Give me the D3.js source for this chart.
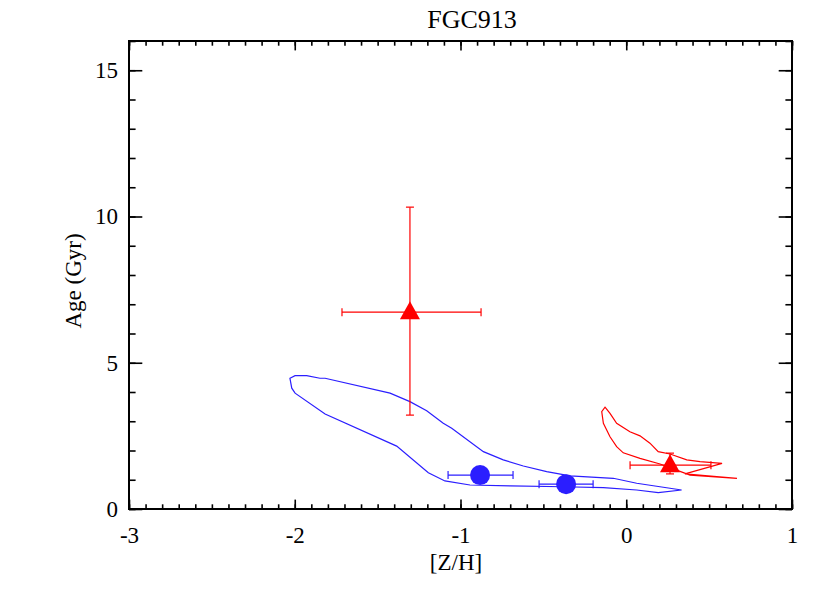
<!DOCTYPE html>
<html>
<head>
<meta charset="utf-8">
<script src="https://cdn.jsdelivr.net/npm/d3@7"></script>
<style>
  body { margin: 0; background: #fff; }
  text { font-family: "Liberation Serif", "DejaVu Serif", serif; fill: #000; }
</style>
</head>
<body>
<div id="chart"></div>
<script>
// data
var titleText = "FGC913";
var xTicks = [-3, -2, -1, 0, 1];
var yTicks = [0, 5, 10, 15];

// red triangles
var redZ = [-1.305, 0.264];
var redAge = [6.73, 1.50];
var redZLo = [-1.715, 0.023];
var redZHi = [-0.876, 0.511];
var redAgeLo = [3.21, 1.20];
var redAgeHi = [10.32, 1.91];

// blue circles
var blueZ = [-0.882, -0.363];
var blueAge = [1.16, 0.85];
var blueZLo = [-1.075, -0.526];
var blueZHi = [-0.683, -0.200];

// contours
var blueContourZ = [-2.029, -1.998, -1.928, -1.848, -1.817, -1.425, -1.305, -1.204, -1.104, -1.053,
  -0.862, -0.742, -0.621, -0.480, -0.339, -0.078, 0.063, 0.334, 0.193, 0.063, -0.138, -0.380,
  -0.701, -0.943, -1.094, -1.194, -1.385, -1.817, -1.998, -2.018];
var blueContourAge = [4.47, 4.56, 4.56, 4.47, 4.47, 3.96, 3.67, 3.36, 2.93, 2.76,
  1.96, 1.68, 1.47, 1.28, 1.13, 1.05, 0.88, 0.65, 0.56, 0.65, 0.73, 0.76,
  0.79, 0.82, 0.96, 1.24, 2.15, 3.25, 3.96, 4.13];
var redContourZ = [-0.122, -0.098, -0.058, 0.022, 0.083, 0.143, 0.193, 0.264, 0.365, 0.445, 0.578,
  0.354, 0.668, 0.385, 0.304, 0.204, 0.083, -0.018, -0.058, -0.098, -0.138, -0.148, -0.128];
var redContourAge = [3.44, 3.27, 2.93, 2.64, 2.50, 2.25, 1.96, 1.88, 1.68, 1.62, 1.56,
  1.20, 1.05, 1.16, 1.33, 1.54, 1.73, 1.92, 2.13, 2.47, 2.93, 3.33, 3.48];

var svgWidth = 830;
var svgHeight = 593;
var margin = { top: 41, right: 38, bottom: 84, left: 129 };
var width = svgWidth - margin.left - margin.right;
var height = svgHeight - margin.top - margin.bottom;

var svg = d3.select("#chart")
  .append("svg")
  .attr("width", svgWidth)
  .attr("height", svgHeight);

var chartGroup = svg.append("g")
  .attr("transform", `translate(${margin.left}, ${margin.top})`);

var xScale = d3.scaleLinear().domain([-3, 1]).range([0, width]);
var yScale = d3.scaleLinear().domain([0, 16]).range([height, 0]);

// IDL style tick lengths
var xMajor = 9.4, xMinor = 4.7;
var yMajor = 13.3, yMinor = 6.6;

var xMinorTicks = d3.range(-3, 1.0001, 0.1).map(d => Math.round(d * 10) / 10);
var yMinorTicks = d3.range(0, 16.0001, 1);

// plain hyphen minus like the original
var plainFormat = d => String(d);

function drawAxis(axis, cls) {
  var g = chartGroup.append("g").attr("class", cls);
  g.call(axis);
  g.select(".domain").remove();
  g.selectAll("line").attr("stroke", "#000").attr("stroke-width", 1.6);
  g.selectAll("text").style("font-size", "23px");
  return g;
}

// bottom
drawAxis(d3.axisBottom(xScale).tickValues(xMinorTicks).tickSize(-xMinor).tickFormat(""), "xminor")
  .attr("transform", `translate(0, ${height})`);
drawAxis(d3.axisBottom(xScale).tickValues(xTicks).tickSize(-xMajor).tickPadding(18).tickFormat(plainFormat), "xmajor")
  .attr("transform", `translate(0, ${height})`);
// top
drawAxis(d3.axisTop(xScale).tickValues(xMinorTicks).tickSize(-xMinor).tickFormat(""), "xminortop");
drawAxis(d3.axisTop(xScale).tickValues(xTicks).tickSize(-xMajor).tickFormat(""), "xmajortop");
// left
drawAxis(d3.axisLeft(yScale).tickValues(yMinorTicks).tickSize(-yMinor).tickFormat(""), "yminor");
drawAxis(d3.axisLeft(yScale).tickValues(yTicks).tickSize(-yMajor).tickPadding(11).tickFormat(plainFormat), "ymajor");
// right
drawAxis(d3.axisRight(yScale).tickValues(yMinorTicks).tickSize(-yMinor).tickFormat(""), "yminorright")
  .attr("transform", `translate(${width}, 0)`);
drawAxis(d3.axisRight(yScale).tickValues(yTicks).tickSize(-yMajor).tickFormat(""), "ymajorright")
  .attr("transform", `translate(${width}, 0)`);

// frame
chartGroup.append("rect")
  .attr("width", width)
  .attr("height", height)
  .attr("fill", "none")
  .attr("stroke", "#000")
  .attr("stroke-width", 2);

// contours
var line = d3.line()
  .x(d => xScale(d[0]))
  .y(d => yScale(d[1]))
  .curve(d3.curveLinearClosed);

chartGroup.append("path")
  .datum(d3.zip(blueContourZ, blueContourAge))
  .attr("d", line)
  .attr("fill", "none")
  .attr("stroke", "#2b1eff")
  .attr("stroke-width", 1.2);

chartGroup.append("path")
  .datum(d3.zip(redContourZ, redContourAge))
  .attr("d", line)
  .attr("fill", "none")
  .attr("stroke", "#ff0000")
  .attr("stroke-width", 1.2);

// error bars
var cap = 4;
function hErr(z, lo, hi, age, color) {
  var g = chartGroup.append("g").attr("stroke", color).attr("stroke-width", 1.2);
  g.append("line").attr("x1", xScale(lo)).attr("x2", xScale(hi)).attr("y1", yScale(age)).attr("y2", yScale(age));
  g.append("line").attr("x1", xScale(lo)).attr("x2", xScale(lo)).attr("y1", yScale(age) - cap).attr("y2", yScale(age) + cap);
  g.append("line").attr("x1", xScale(hi)).attr("x2", xScale(hi)).attr("y1", yScale(age) - cap).attr("y2", yScale(age) + cap);
}
function vErr(z, lo, hi, color) {
  var g = chartGroup.append("g").attr("stroke", color).attr("stroke-width", 1.2);
  g.append("line").attr("x1", xScale(z)).attr("x2", xScale(z)).attr("y1", yScale(lo)).attr("y2", yScale(hi));
  g.append("line").attr("x1", xScale(z) - cap).attr("x2", xScale(z) + cap).attr("y1", yScale(lo)).attr("y2", yScale(lo));
  g.append("line").attr("x1", xScale(z) - cap).attr("x2", xScale(z) + cap).attr("y1", yScale(hi)).attr("y2", yScale(hi));
}

redZ.forEach(function(z, i) {
  hErr(z, redZLo[i], redZHi[i], redAge[i], "#ff0000");
  vErr(z, redAgeLo[i], redAgeHi[i], "#ff0000");
});
blueZ.forEach(function(z, i) {
  hErr(z, blueZLo[i], blueZHi[i], blueAge[i], "#2b1eff");
});

// markers
chartGroup.selectAll(".tri")
  .data(d3.zip(redZ, redAge))
  .enter()
  .append("path")
  .attr("class", "tri")
  .attr("d", "M0,-11 L10,7 L-10,7 Z")
  .attr("transform", d => `translate(${xScale(d[0])}, ${yScale(d[1])})`)
  .attr("fill", "#ff0000");

chartGroup.selectAll(".dot")
  .data(d3.zip(blueZ, blueAge))
  .enter()
  .append("circle")
  .attr("class", "dot")
  .attr("cx", d => xScale(d[0]))
  .attr("cy", d => yScale(d[1]))
  .attr("r", 10)
  .attr("fill", "#2b1eff");

// title and axis labels
svg.append("text")
  .attr("x", 472)
  .attr("y", 28)
  .attr("text-anchor", "middle")
  .attr("font-size", "26px")
  .text(titleText);

svg.append("text")
  .attr("x", 456)
  .attr("y", 570)
  .attr("text-anchor", "middle")
  .attr("font-size", "23px")
  .text("[Z/H]");

svg.append("text")
  .attr("transform", `translate(81, 281) rotate(-90)`)
  .attr("text-anchor", "middle")
  .attr("font-size", "23px")
  .text("Age (Gyr)");
</script>
</body>
</html>
